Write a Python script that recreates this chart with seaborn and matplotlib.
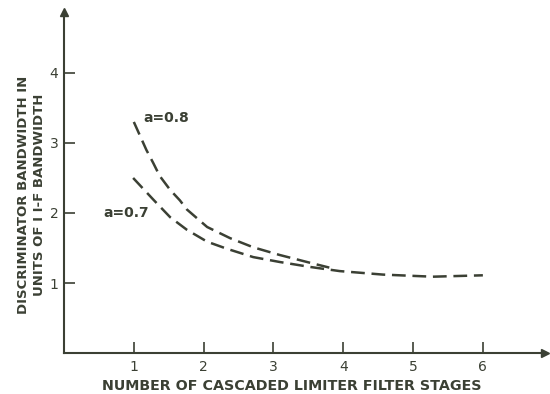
# Discriminator bandwidth vs number of cascaded limiter filter stages

import pandas as pd
import seaborn as sns
import matplotlib.pyplot as plt

# values
stages_08 = [1.0, 1.18, 1.28, 1.37, 1.52, 1.66, 1.76, 2.05, 2.38, 2.71, 3.09, 3.52, 3.8]
bw_08 = [3.3, 2.9, 2.71, 2.53, 2.33, 2.18, 2.05, 1.80, 1.64, 1.51, 1.40, 1.29, 1.22]

stages_07 = [0.99, 1.28, 1.52, 1.76, 2.05, 2.33, 2.71, 3.09, 3.52, 3.95, 4.57, 5.28, 6.0]
bw_07 = [2.5, 2.19, 1.94, 1.76, 1.59, 1.49, 1.37, 1.30, 1.23, 1.17, 1.12, 1.09, 1.11]

x_ticks = [1, 2, 3, 4, 5, 6]
y_ticks = [1, 2, 3, 4]

ink = "#3b4034"

sns.set_style("white")
plt.rcParams['font.family'] = ['DejaVu Sans']

df08 = pd.DataFrame({"stages": stages_08, "bw": bw_08})
df07 = pd.DataFrame({"stages": stages_07, "bw": bw_07})

fig = plt.figure(figsize=(5.5, 3.94), dpi=100)
ax = fig.add_axes([0.1164, 0.104, 0.8745, 0.8655])

sns.lineplot(data=df08, x="stages", y="bw", ax=ax, color=ink, lw=1.8,
             linestyle=(0, (5.5, 2.7)))
sns.lineplot(data=df07, x="stages", y="bw", ax=ax, color=ink, lw=1.8,
             linestyle=(0, (5.5, 2.7)))

ax.set_xlim(0, 6.89)
ax.set_ylim(0, 4.87)

for s in ["top", "right"]:
    ax.spines[s].set_visible(False)
for s in ["left", "bottom"]:
    ax.spines[s].set_color(ink)
    ax.spines[s].set_linewidth(1.5)

# arrow heads on the axes
ax.plot(1, 0, ">", color=ink, ms=6, transform=ax.get_yaxis_transform(), clip_on=False)
ax.plot(0, 1, "^", color=ink, ms=6, transform=ax.get_xaxis_transform(), clip_on=False)

ax.set_xticks(x_ticks)
ax.set_yticks(y_ticks)
ax.tick_params(direction="in", length=8, width=1.2, color=ink, labelcolor=ink,
               labelsize=10, bottom=True, left=True)
ax.tick_params(axis="x", pad=5)
ax.tick_params(axis="y", pad=4)

ax.set_xlabel("NUMBER OF CASCADED LIMITER FILTER STAGES", color=ink,
              fontsize=10.3, fontweight="bold")
ax.xaxis.set_label_coords(0.474, -0.075)
ax.set_ylabel("DISCRIMINATOR BANDWIDTH IN\nUNITS OF I I-F BANDWIDTH", color=ink,
              fontsize=9.5, fontweight="bold", linespacing=1.3)
ax.yaxis.set_label_coords(-0.037, 0.463)

ax.text(1.13, 3.36, "a=0.8", color=ink, fontsize=10, fontweight="bold",
        va="center", ha="left")
ax.text(0.56, 2.0, "a=0.7", color=ink, fontsize=10, fontweight="bold",
        va="center", ha="left")

fig.savefig("out.png", dpi=100, facecolor="white")
